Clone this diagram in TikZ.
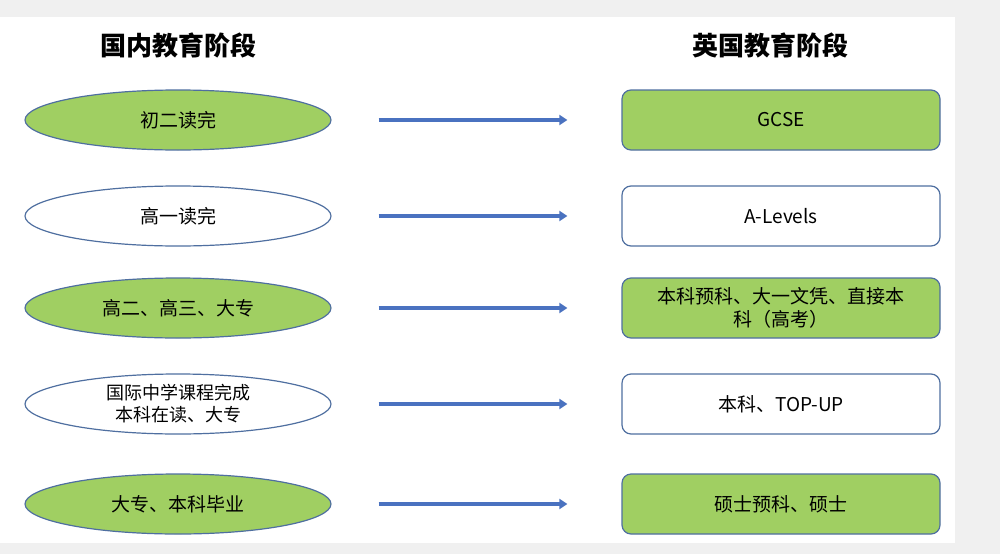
\documentclass[tikz,border=0pt]{standalone}
\usepackage{fontspec}
\newfontfamily\cjk{Noto Sans CJK SC}
\begin{document}
\begin{tikzpicture}[x=1pt,y=-1pt,
  every node/.style={font=\cjk\fontsize{19}{23}\selectfont},
  ell/.style={ellipse,draw=bord,line width=1.2pt,minimum width=306pt,minimum height=60pt,inner sep=0pt,align=center},
  box/.style={rectangle,rounded corners=9pt,draw=bord,line width=1.2pt,minimum width=318pt,minimum height=60pt,inner sep=0pt,align=center,text width=300pt},
  on/.style={fill=gr}, off/.style={fill=white},
  arr/.style={draw=ablue,line width=3.5pt,-{Triangle[length=8pt,width=10pt]},shorten >=0pt},
  ttl/.style={font=\cjk\bfseries\fontsize{26}{30}\selectfont}]
\usetikzlibrary{shapes.geometric,arrows.meta}
\definecolor{gr}{HTML}{A0CF62}
\definecolor{bord}{HTML}{4F6FA0}
\definecolor{ablue}{HTML}{4A72C0}
\definecolor{bg}{HTML}{F0F0F0}
\fill[bg] (0,0) rectangle (1000,554);
\fill[white] (0,17) rectangle (955,543);
\node[ttl] (t1) at (178,45) {国内教育阶段};
\node[ttl] (t2) at (770,45) {英国教育阶段};
\node[ell,on] (l1) at (178,120) {初二读完};
\node[ell,off] (l2) at (178,216) {高一读完};
\node[ell,on] (l3) at (178,308) {高二、高三、大专};
\node[ell,off,font=\cjk\fontsize{18}{22}\selectfont] (l4) at (178,404) {国际中学课程完成\\本科在读、大专};
\node[ell,on] (l5) at (178,504) {大专、本科毕业};
\node[box,on] (r1) at (781,120) {GCSE};
\node[box,off] (r2) at (781,216) {A-Levels};
\node[box,on] (r3) at (781,308) {本科预科、大一文凭、直接本\\科（高考）};
\node[box,off] (r4) at (781,404) {本科、TOP-UP};
\node[box,on] (r5) at (781,504) {硕士预科、硕士};
\foreach \i in {1,...,5}{
  \coordinate (a\i) at ([xshift=47pt]l\i.east);
  \coordinate (b\i) at ([xshift=-54pt]r\i.west);
  \draw[arr] (a\i) -- (b\i);
}
\end{tikzpicture}
\end{document}
